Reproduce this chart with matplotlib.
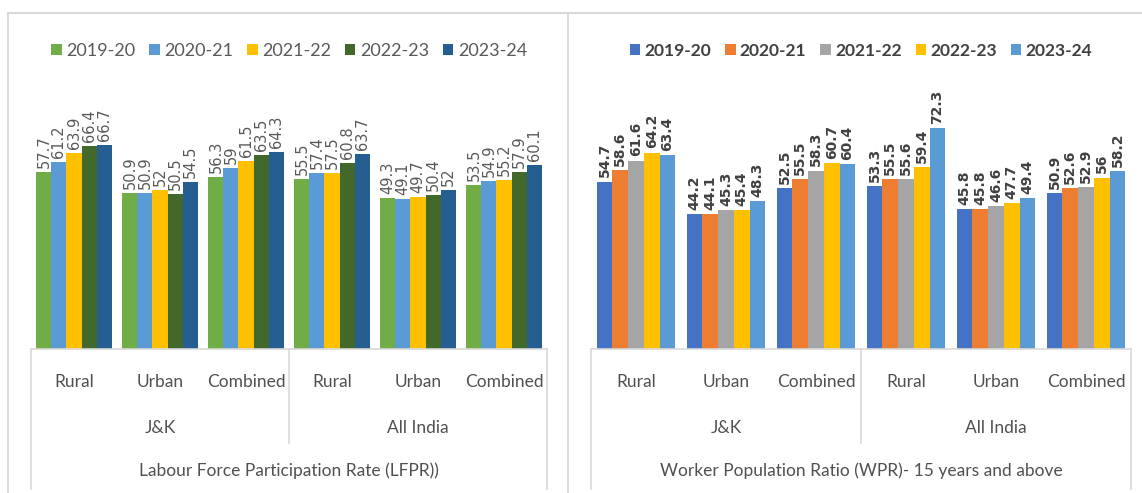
import numpy as np
import matplotlib.pyplot as plt
from matplotlib.lines import Line2D
from matplotlib.patches import Patch

W, H = 1142, 493

years = ['2019-20', '2020-21', '2021-22', '2022-23', '2023-24']
areas = ['Rural', 'Urban', 'Combined', 'Rural', 'Urban', 'Combined']
regions = ['J&K', 'All India']

# LFPR: J&K rural/urban/combined, then All India rural/urban/combined
lfpr_2019 = [57.7, 50.9, 56.3, 55.5, 49.3, 53.5]
lfpr_2020 = [61.2, 50.9, 59, 57.4, 49.1, 54.9]
lfpr_2021 = [63.9, 52, 61.5, 57.5, 49.7, 55.2]
lfpr_2022 = [66.4, 50.5, 63.5, 60.8, 50.4, 57.9]
lfpr_2023 = [66.7, 54.5, 64.3, 63.7, 52, 60.1]

# WPR (15 years and above)
wpr_2019 = [54.7, 44.2, 52.5, 53.3, 45.8, 50.9]
wpr_2020 = [58.6, 44.1, 55.5, 55.5, 45.8, 52.6]
wpr_2021 = [61.6, 45.3, 58.3, 55.6, 46.6, 52.9]
wpr_2022 = [64.2, 45.4, 60.7, 59.4, 47.7, 56]
wpr_2023 = [63.4, 48.3, 60.4, 72.3, 49.4, 58.2]

lfpr_colors = ['#70AD47', '#5B9BD5', '#FFC000', '#43682B', '#255E91']
wpr_colors = ['#4472C4', '#ED7D31', '#A5A5A5', '#FFC000', '#5B9BD5']

grid_col = '#D9D9D9'
text_col = '#595959'
font = 'Lato'


def fx(px):
    return px / W


def fy(py):
    return 1 - py / H


def vline(fig, x, y0, y1, color=grid_col, lw=1.2):
    fig.add_artist(Line2D([fx(x), fx(x)], [fy(y0), fy(y1)], color=color, lw=lw,
                          transform=fig.transFigure))


def hline(fig, y, x0, x1, color=grid_col, lw=1.2):
    fig.add_artist(Line2D([fx(x0), fx(x1)], [fy(y), fy(y)], color=color, lw=lw,
                          transform=fig.transFigure))


def draw_panel(fig, left, right, series, colors, title, label_kw, legend_kw):
    base, top = 349, 40
    px_per_unit = 3.06
    ax = fig.add_axes([fx(left), fy(base), fx(right) - fx(left), (base - top) / H])
    ax.set_xlim(-0.5, 5.5)
    ax.set_ylim(0, (base - top) / px_per_unit)
    group = 0.875
    bw = group / len(series)
    x = np.arange(len(areas))
    for i, (vals, c, yr) in enumerate(zip(series, colors, years)):
        off = -group / 2 + bw * (i + 0.5)
        bars = ax.bar(x + off, vals, bw, color=c, label=yr)
        ax.bar_label(bars, labels=[f'{v:g}' for v in vals], rotation=90,
                     padding=3, **label_kw)
    for s in ['top', 'left', 'right']:
        ax.spines[s].set_visible(False)
    ax.spines['bottom'].set_color(grid_col)
    ax.spines['bottom'].set_linewidth(1.2)
    ax.set_xticks([])
    ax.set_yticks([])
    ax.patch.set_alpha(0)

    # category table under the bars
    cat_w = (right - left) / 6
    sep = left + cat_w * 3
    vline(fig, left, base, 489)
    vline(fig, right, base, 489)
    vline(fig, sep, base, 443)
    tkw = dict(ha='center', va='center', fontsize=12.5, color='#505050', family=font)
    for i, a in enumerate(areas):
        fig.text(fx(left + cat_w * (i + 0.5)), fy(382), a, **tkw)
    fig.text(fx((left + sep) / 2), fy(428), regions[0], **tkw)
    fig.text(fx((sep + right) / 2), fy(428), regions[1], **tkw)
    fig.text(fx((left + right) / 2), fy(471), title, **tkw)

    handles = [Patch(facecolor=c, edgecolor='none') for c in colors]
    fig.legend(handles, years, loc='center', ncol=5,
               bbox_to_anchor=(fx((left + right) / 2), fy(51)),
               frameon=False, handlelength=0.6, handleheight=0.6,
               handletextpad=0.25, **legend_kw)
    return ax


fig = plt.figure(figsize=(W / 100, H / 100), dpi=100)

# panel frames
hline(fig, 13, 8, W, lw=1.5)
vline(fig, 8, 13, H, lw=1.5)
vline(fig, 568, 13, H, lw=1.5)

draw_panel(fig, 31, 547,
           [lfpr_2019, lfpr_2020, lfpr_2021, lfpr_2022, lfpr_2023], lfpr_colors,
           'Labour Force Participation Rate (LFPR))',
           dict(fontsize=10.5, color=text_col),
           dict(prop={'family': font, 'size': 13}, labelcolor=text_col,
                columnspacing=0.75))

draw_panel(fig, 591, 1131,
           [wpr_2019, wpr_2020, wpr_2021, wpr_2022, wpr_2023], wpr_colors,
           'Worker Population Ratio (WPR)- 15 years and above',
           dict(fontsize=10, color='#404040', fontweight='bold'),
           dict(prop={'family': font, 'size': 12.5, 'weight': 'bold'},
                labelcolor='#404040', columnspacing=0.8))

fig.savefig('out.png', dpi=100)
